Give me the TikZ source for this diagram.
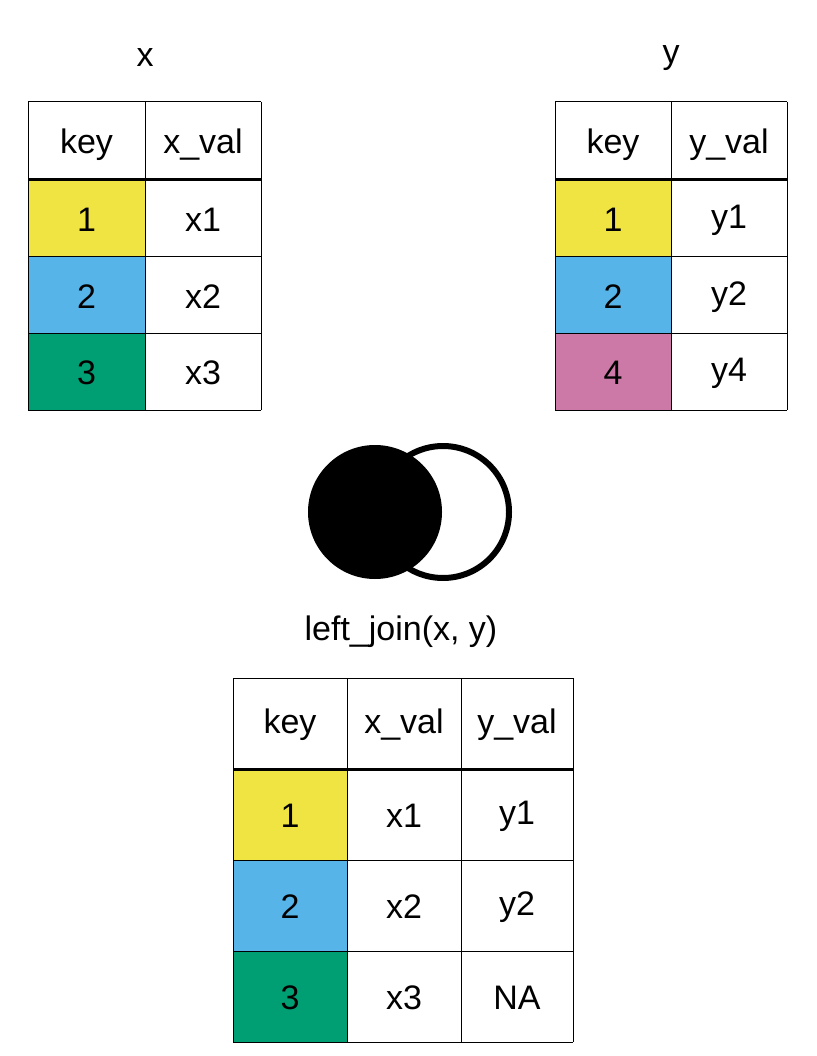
\documentclass[tikz,border=0pt]{standalone}
\usepackage{fontspec}
\setmainfont{Liberation Sans}
\definecolor{cy}{HTML}{F0E442}
\definecolor{cb}{HTML}{56B4E9}
\definecolor{cg}{HTML}{009E73}
\definecolor{cp}{HTML}{CC79A7}
\begin{document}
\begin{tikzpicture}[x=1pt,y=-1pt,
  txt/.style={font=\fontsize{34}{40}\selectfont,inner sep=0pt},
  cell/.style={draw=black,line width=1pt}]
\useasboundingbox (0,0) rectangle (816,1056);
% x table
\node[txt] (tx) at (145,58) {x};
\fill[cy] (28,180) rectangle (145,257);
\fill[cb] (28,257) rectangle (145,333);
\fill[cg] (28,333) rectangle (145,410);
\foreach \y in {102,257,333,410} \draw[cell] (28,\y) -- (261,\y);
\foreach \x in {28,145,261} \draw[cell] (\x,102) -- (\x,410);
\draw[line width=3pt] (28,180) -- (261,180);
\node[txt] (xk) at (86.5,145) {key};
\node[txt] (xv) at (203,145) {x\_val};
\node[txt] (x1) at (86.5,220) {1}; \node[txt] (x1v) at (203,220) {x1};
\node[txt] (x2) at (86.5,297) {2}; \node[txt] (x2v) at (203,297) {x2};
\node[txt] (x3) at (86.5,373) {3}; \node[txt] (x3v) at (203,373) {x3};
% y table
\node[txt] (ty) at (671,58) {y};
\fill[cy] (555,180) rectangle (671,257);
\fill[cb] (555,257) rectangle (671,333);
\fill[cp] (555,333) rectangle (671,410);
\foreach \y in {102,257,333,410} \draw[cell] (555,\y) -- (787,\y);
\foreach \x in {555,671,787} \draw[cell] (\x,102) -- (\x,410);
\draw[line width=3pt] (555,180) -- (787,180);
\node[txt] (yk) at (613,145) {key};
\node[txt] (yv) at (729,145) {y\_val};
\node[txt] (y1) at (613,220) {1}; \node[txt] (y1v) at (729,220) {y1};
\node[txt] (y2) at (613,297) {2}; \node[txt] (y2v) at (729,297) {y2};
\node[txt] (y4) at (613,373) {4}; \node[txt] (y4v) at (729,373) {y4};
% venn
\draw[line width=6pt,fill=white] (443,512) circle (66);
\fill[black] (375,512) circle (67);
\node[txt] (lj) at (401,632) {left\_join(x, y)};
% result
\fill[cy] (233,769) rectangle (347,860);
\fill[cb] (233,860) rectangle (347,951);
\fill[cg] (233,951) rectangle (347,1042);
\foreach \y in {678,860,951,1042} \draw[cell] (233,\y) -- (573,\y);
\foreach \x in {233,347,461,573} \draw[cell] (\x,678) -- (\x,1042);
\draw[line width=3pt] (233,769) -- (573,769);
\node[txt] (rk) at (290,725) {key};
\node[txt] (rx) at (404,725) {x\_val};
\node[txt] (ry) at (517,725) {y\_val};
\node[txt] (r1) at (290,816) {1}; \node[txt] (r1x) at (404,816) {x1}; \node[txt] (r1y) at (517,816) {y1};
\node[txt] (r2) at (290,907) {2}; \node[txt] (r2x) at (404,907) {x2}; \node[txt] (r2y) at (517,907) {y2};
\node[txt] (r3) at (290,998) {3}; \node[txt] (r3x) at (404,998) {x3}; \node[txt] (r3y) at (517,998) {NA};
\end{tikzpicture}
\end{document}
